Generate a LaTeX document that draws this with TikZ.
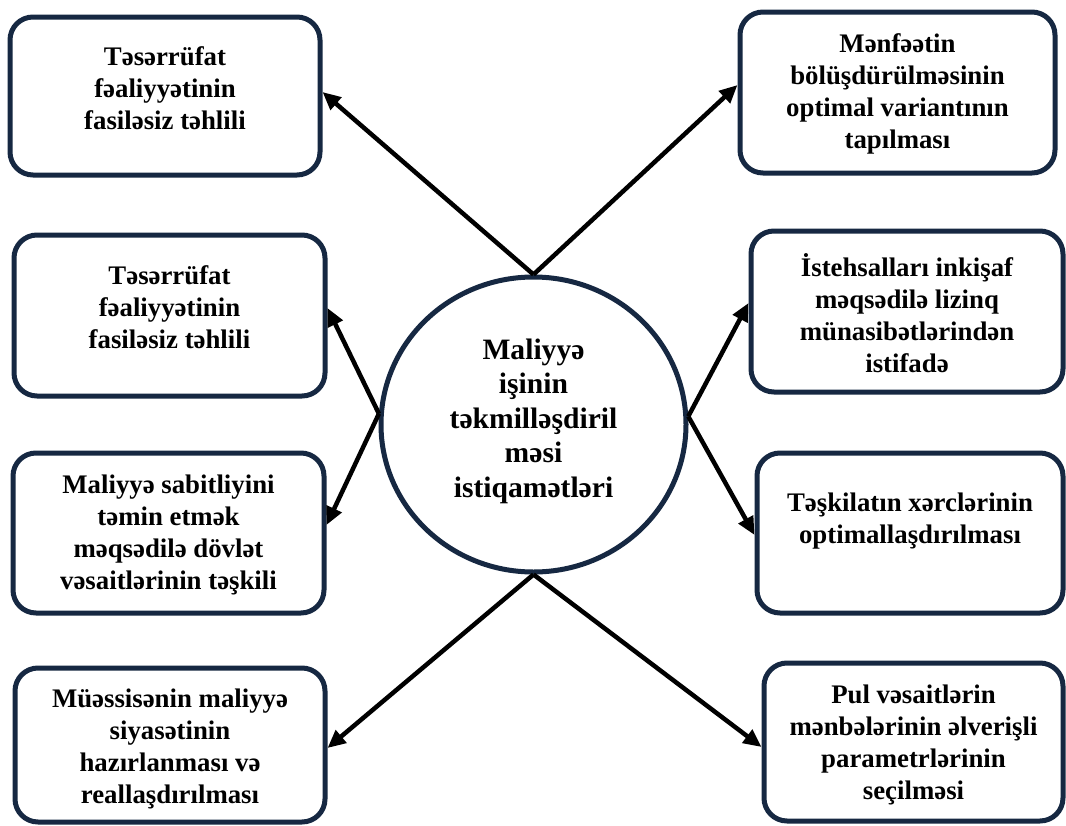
\documentclass[tikz,border=0pt]{standalone}
\usepackage{fontspec}
\setmainfont{Liberation Serif}
\usetikzlibrary{shapes.geometric,arrows.meta}
\definecolor{navy}{RGB}{22,40,66}
\tikzset{
  box/.style={draw=navy, line width=5pt, rounded corners=23pt, fill=white, inner sep=0pt},
  lbl/.style={align=center, font=\bfseries\fontsize{26.8}{32}\selectfont, inner sep=0pt},
  arr/.style={line width=4.5pt, -{Triangle[length=18pt,width=16pt]}, black}
}
\begin{document}
\begin{tikzpicture}[x=1pt,y=-1pt]
\useasboundingbox[fill=white] (0,0) rectangle (1066,825);
% boxes
\node[box, minimum width=310pt, minimum height=158pt] (b1) at (165,96) {};
\node[box, minimum width=311pt, minimum height=161pt] (b2) at (169.5,315.5) {};
\node[box, minimum width=311pt, minimum height=160pt] (b3) at (168.5,533) {};
\node[box, minimum width=310pt, minimum height=154pt] (b4) at (170,745) {};
\node[box, minimum width=315pt, minimum height=161pt] (b5) at (897.5,92.5) {};
\node[box, minimum width=312pt, minimum height=161pt] (b6) at (907,311.5) {};
\node[box, minimum width=306pt, minimum height=160pt] (b7) at (910,533) {};
\node[box, minimum width=299pt, minimum height=158pt] (b8) at (913.5,742) {};
% labels
\node[lbl] (t1) at (165,88) {Təsərrüfat\\fəaliyyətinin\\fasiləsiz təhlili};
\node[lbl] (t2) at (169.5,307) {Təsərrüfat\\fəaliyyətinin\\fasiləsiz təhlili};
\node[lbl] (t3) at (168.5,535) {Maliyyə sabitliyini\\təmin etmək\\məqsədilə dövlət\\vəsaitlərinin təşkili};
\node[lbl] (t4) at (170,749) {Müəssisənin maliyyə\\siyasətinin\\hazırlanması və\\reallaşdırılması};
\node[lbl] (t5) at (897.5,94) {Mənfəətin\\bölüşdürülməsinin\\optimal variantının\\tapılması};
\node[lbl] (t6) at (907,313) {İstehsalları inkişaf\\məqsədilə lizinq\\münasibətlərindən\\istifadə};
\node[lbl] (t7) at (910,521) {Təşkilatın xərclərinin\\optimallaşdırılması};
\node[lbl] (t8) at (913.5,745) {Pul vəsaitlərin\\mənbələrinin əlverişli\\parametrlərinin\\seçilməsi};
% centre
\node[ellipse, draw=navy, line width=5pt, fill=white, minimum width=305pt, minimum height=295pt, inner sep=0pt] (c) at (533.5,424.5) {};
\node[align=center, font=\bfseries\fontsize{29.6}{34.5}\selectfont, inner sep=0pt] (ct) at (533.5,421) {Maliyyə\\işinin\\təkmilləşdiril\\məsi\\istiqamətləri};
% arrows
\draw[arr] (c.north) -- ([yshift=4pt]b1.east);
\draw[arr] (c.north) -- ([yshift=7.5pt]b5.west);
\draw[arr] (c.176) -- ([yshift=7.5pt]b2.east);
\draw[arr] (c.176) -- ([yshift=8pt]b3.east);
\draw[arr] (c.3) -- ([yshift=8.5pt]b6.west);
\draw[arr] (c.3) -- ([yshift=-2pt]b7.west);
\draw[arr] (c.south) -- ([yshift=-3pt]b4.east);
\draw[arr] (c.south) -- ([yshift=-5pt]b8.west);
\end{tikzpicture}
\end{document}
